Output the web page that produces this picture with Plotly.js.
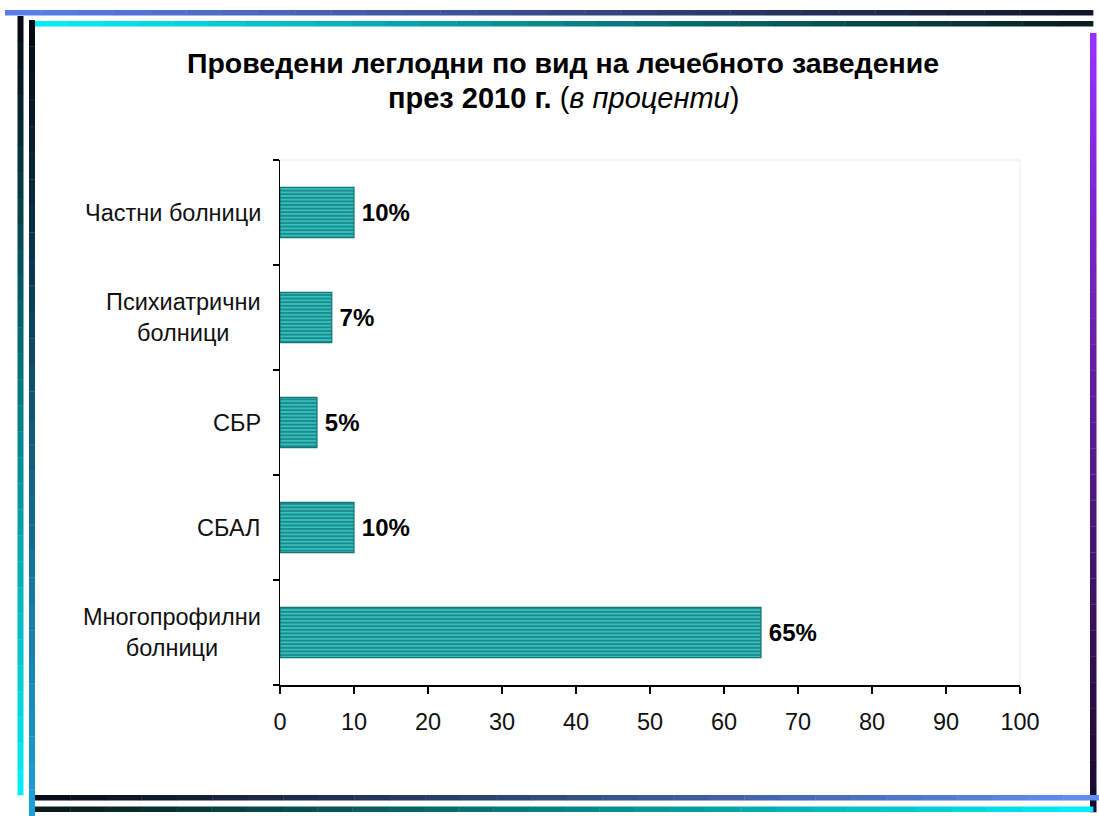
<!DOCTYPE html>
<html>
<head>
<meta charset="utf-8">
<script src="https://cdn.plot.ly/plotly-3.0.1.min.js"></script>
<style>html,body{margin:0;padding:0;background:#fff;}#chart{width:1099px;height:816px;}</style>
</head>
<body>
<div id="chart"></div>
<script>
// ---- data ----
var categories = ["Многопрофилни болници", "СБАЛ", "СБР", "Психиатрични болници", "Частни болници"];
var tickLabels = ["Многопрофилни<br>болници", "СБАЛ", "СБР", "Психиатрични<br>болници", "Частни болници"];
var values = [65, 10, 5, 7, 10];
var xTicks = [0, 10, 20, 30, 40, 50, 60, 70, 80, 90, 100];
var titleLine1 = "Проведени леглодни по вид на лечебното заведение";
var titleLine2 = "<b>през 2010 г.</b> (<i>в проценти</i>)";

// ---- layout geometry ----
var W = 1099, H = 816;
var L = 280, R = 1020, T = 160, B = 685;
function px(x){ return (x - L) / (R - L); }
function py(y){ return (B - y) / (B - T); }

function hex2rgb(h){ return [parseInt(h.substr(1,2),16),parseInt(h.substr(3,2),16),parseInt(h.substr(5,2),16)]; }
function mix(a,b,t){ var A=hex2rgb(a),C=hex2rgb(b); return 'rgb('+A.map(function(v,i){return Math.round(v+(C[i]-v)*t);}).join(',')+')'; }

var FONT = 'Liberation Sans, Arial, sans-serif';
var shapes = [];
// faint plot border (top/right)
shapes.push({type:'line', xref:'paper', yref:'paper', x0:0, x1:1, y0:1, y1:1, line:{color:'#ececec', width:1}, layer:'below'});
shapes.push({type:'line', xref:'paper', yref:'paper', x0:1, x1:1, y0:0, y1:1, line:{color:'#ececec', width:1}, layer:'below'});

// gradient frame bars
function gradBar(x0,y0,x1,y1,c0,c1,horizontal){
  var n = 30;
  for (var i=0;i<n;i++){
    var a = i/n, b = (i+1)/n, col = mix(c0,c1,(i+0.5)/n);
    var s = {type:'rect', xref:'paper', yref:'paper', line:{width:0}, fillcolor:col, layer:'above'};
    if (horizontal){ s.x0 = px(x0+(x1-x0)*a); s.x1 = px(x0+(x1-x0)*b)+0.0005; s.y0 = py(y0); s.y1 = py(y1); }
    else { s.y0 = py(y0+(y1-y0)*a); s.y1 = py(y0+(y1-y0)*b)-0.0005; s.x0 = px(x0); s.x1 = px(x1); }
    shapes.push(s);
  }
}
// top lines
gradBar(5, 10, 1093, 15.5, '#5b80ea', '#101428', true);
gradBar(32, 21, 1093, 26.5, '#00f0f8', '#0a1a1a', true);
// left verticals
gradBar(17.5, 16, 23.5, 795, '#050810', '#00f0f8', false);
gradBar(29, 20, 35, 816, '#050810', '#1aa4d8', false);
// right vertical
gradBar(1090, 33, 1096.5, 812, '#9a30ff', '#180828', false);
// bottom lines
gradBar(35, 795, 1099, 800.5, '#080a14', '#5f90f2', true);
gradBar(35, 806.5, 1093, 812, '#0a1816', '#00f0f8', true);

// category label annotations (centered multi-line)
var annotations = categories.map(function(c,i){
  return {xref:'paper', yref:'y', x:px(263), y:c, xanchor:'right', yanchor:'middle', align:'center',
    text: tickLabels[i], showarrow:false, font:{family:FONT, size:23.5, color:'#111'}};
});
annotations.push({xref:'paper', yref:'paper', x:px(563), y:py(98), xanchor:'center', yanchor:'middle',
  text:titleLine2, showarrow:false, font:{family:FONT, size:29, color:'#000'}});

var trace = {
  type:'bar', orientation:'h', y:categories, x:values,
  text: values.map(function(v){return '\u2009<b>'+v+'%</b>';}), textposition:'outside', cliponaxis:false,
  textfont:{family:FONT, size:24, color:'#000'},
  marker:{color:'#2fb8b8', line:{color:'#157573', width:1.2},
    pattern:{shape:'-', bgcolor:'#36bebd', fgcolor:'#158080', size:3.6, solidity:0.42}},
  hoverinfo:'skip'
};

var layout = {
  width:W, height:H, paper_bgcolor:'#fff', plot_bgcolor:'#fff',
  margin:{l:L, r:W-R, t:T, b:H-B, pad:0},
  showlegend:false, bargap:0.52,
  font:{family:FONT, size:23.5, color:'#111'},
  title:{text:'<b>'+titleLine1+'</b>', xref:'container', yref:'container', x:563/W, y:1-63/H, xanchor:'center', yanchor:'middle',
    font:{family:FONT, size:28.5, color:'#000'}},
  xaxis:{range:[0,100], tickvals:xTicks, ticktext:xTicks.map(String), showgrid:false, zeroline:false,
    showline:true, linecolor:'#000', linewidth:1.5, ticks:'outside', ticklen:7, tickwidth:1.5, tickcolor:'#000',
    ticklabelstandoff:8, tickfont:{size:23.5, color:'#111'}, fixedrange:true},
  yaxis:{type:'category', categoryorder:'array', categoryarray:categories, showticklabels:false,
    showgrid:false, zeroline:false, showline:true, linecolor:'#000', linewidth:1.5,
    ticks:'outside', tickson:'boundaries', ticklen:6, tickwidth:1.5, tickcolor:'#000', fixedrange:true},
  shapes:shapes, annotations:annotations
};

Plotly.newPlot('chart', [trace], layout, {displayModeBar:false, staticPlot:true});
</script>
</body>
</html>
